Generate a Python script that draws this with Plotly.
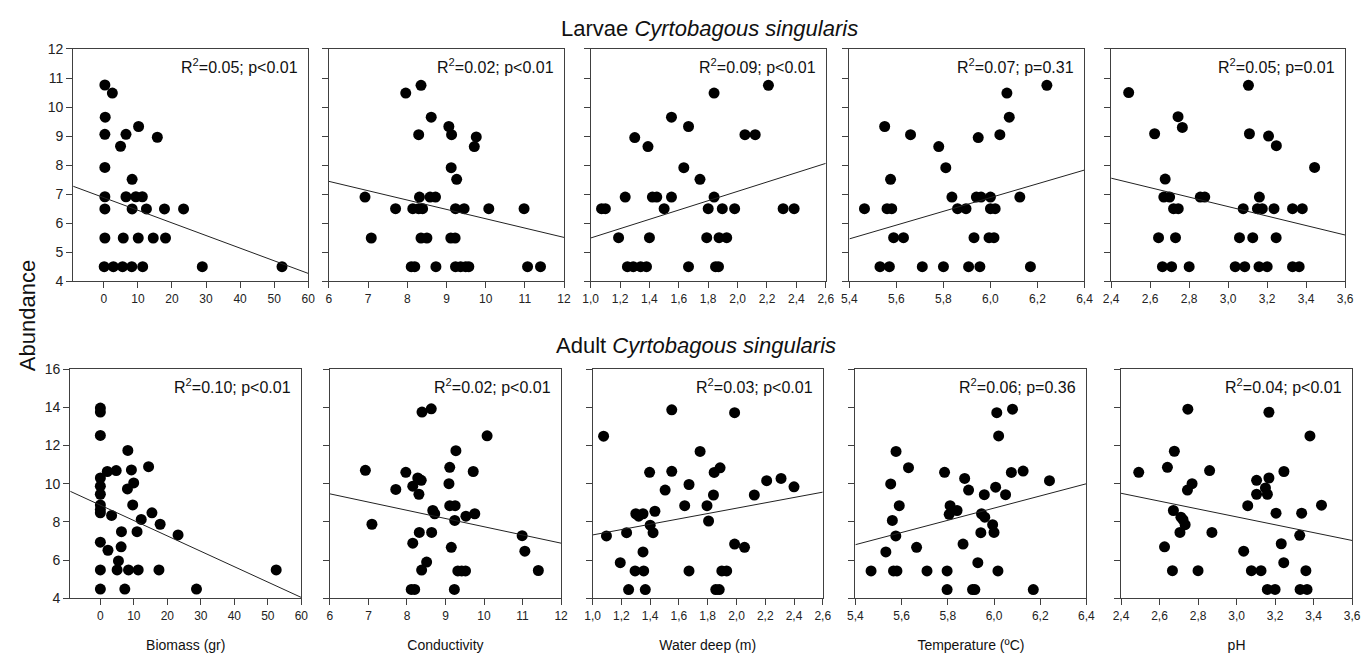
import plotly.graph_objects as go

# ---------------- data ----------------
variables = ["Biomass (gr)", "Conductivity", "Water deep (m)", "Temperature (ºC)", "pH"]
row_titles = ["Larvae <i>Cyrtobagous singularis</i>", "Adult <i>Cyrtobagous singularis</i>"]
y_label = "Abundance"

x_ranges = [[-9, 60], [6, 12], [1.0, 2.6], [5.4, 6.4], [2.4, 3.6]]
x_tickvals = [
    [0, 10, 20, 30, 40, 50, 60],
    [6, 7, 8, 9, 10, 11, 12],
    [1.0, 1.2, 1.4, 1.6, 1.8, 2.0, 2.2, 2.4, 2.6],
    [5.4, 5.6, 5.8, 6.0, 6.2, 6.4],
    [2.4, 2.6, 2.8, 3.0, 3.2, 3.4, 3.6],
]
x_ticktext = [
    ["0", "10", "20", "30", "40", "50", "60"],
    ["6", "7", "8", "9", "10", "11", "12"],
    ["1,0", "1,2", "1,4", "1,6", "1,8", "2,0", "2,2", "2,4", "2,6"],
    ["5,4", "5,6", "5,8", "6,0", "6,2", "6,4"],
    ["2,4", "2,6", "2,8", "3,0", "3,2", "3,4", "3,6"],
]
y_ranges = [[4, 12], [4, 16]]
y_tickvals = [[4, 5, 6, 7, 8, 9, 10, 11, 12], [4, 6, 8, 10, 12, 14, 16]]

# Larvae
larvae_biomass_x = [0.3, 2.5, 0.4, 0.3, 6.5, 4.9, 10.2, 15.7, 0.3, 8.3, 0.3, 6.5, 9.4, 11.3, 0.3, 8.3, 12.5, 17.8,
                    23.4, 0.3, 5.7, 10.1, 14.5, 18.1, 0.1, 2.8, 5.5, 8.2, 11.4, 28.9, 52.3]
larvae_biomass_y = [10.76, 10.48, 9.65, 9.06, 9.06, 8.65, 9.33, 8.96, 7.92, 7.51, 6.91, 6.91, 6.91, 6.91, 6.49, 6.49,
                    6.49, 6.49, 6.49, 5.49, 5.49, 5.49, 5.49, 5.49, 4.5, 4.5, 4.5, 4.5, 4.5, 4.5, 4.5]
larvae_cond_x = [7.96, 8.35, 8.61, 9.06, 8.29, 9.13, 9.76, 9.71, 9.12, 9.26, 6.92, 8.31, 8.58, 8.72, 7.70, 8.14, 8.29,
                 8.39, 9.23, 9.45, 10.08, 10.98, 7.08, 8.35, 8.5, 9.11, 9.22, 8.1, 8.19, 8.73, 9.23, 9.36, 9.49, 9.57,
                 11.07, 11.4]
larvae_cond_y = [10.48, 10.75, 9.65, 9.33, 9.05, 9.05, 8.97, 8.64, 7.91, 7.51, 6.9, 6.9, 6.9, 6.9, 6.5, 6.5, 6.5, 6.5,
                 6.5, 6.5, 6.5, 6.5, 5.49, 5.49, 5.49, 5.49, 5.49, 4.5, 4.5, 4.5, 4.5, 4.5, 4.5, 4.5, 4.5, 4.5]
larvae_water_x = [1.074, 1.10, 1.19, 1.235, 1.25, 1.29, 1.34, 1.38, 1.30, 1.39, 1.40, 1.42, 1.45, 1.50, 1.55, 1.55,
                  1.666, 1.634, 1.744, 1.666, 1.84, 1.84, 1.80, 1.896, 1.98, 1.79, 1.874, 1.926, 1.85, 1.87, 2.05,
                  2.12, 2.21, 2.31, 2.385]
larvae_water_y = [6.5, 6.5, 5.5, 6.9, 4.5, 4.5, 4.5, 4.5, 8.95, 8.64, 5.5, 6.9, 6.9, 6.5, 6.9, 9.65, 9.33, 7.91, 7.51,
                  4.5, 10.48, 6.9, 6.5, 6.5, 6.5, 5.5, 5.5, 5.5, 4.5, 4.5, 9.05, 9.05, 10.75, 6.5, 6.5]
larvae_temp_x = [5.464, 5.55, 5.56, 5.58, 5.575, 5.588, 5.63, 5.53, 5.57, 5.66, 5.71, 5.78, 5.81, 5.836, 5.86, 5.896,
                 5.80, 5.907, 5.955, 5.93, 5.948, 5.94, 5.96, 6.0, 6.0, 6.02, 5.994, 6.015, 6.04, 6.07, 6.08, 6.125,
                 6.17, 6.24]
larvae_temp_y = [6.5, 9.33, 6.5, 6.5, 7.51, 5.5, 5.5, 4.5, 4.5, 9.05, 4.5, 8.64, 7.91, 6.9, 6.5, 6.5, 4.5, 4.5, 4.5,
                 5.5, 8.95, 6.9, 6.9, 6.9, 6.5, 6.5, 5.5, 5.5, 9.05, 10.48, 9.65, 6.9, 4.5, 10.75]
larvae_ph_x = [2.49, 2.623, 2.743, 2.765, 2.677, 2.67, 2.70, 2.72, 2.744, 2.857, 2.88, 2.643, 2.73, 2.663, 2.71, 2.80,
               3.104, 3.109, 3.207, 3.247, 3.443, 3.16, 3.077, 3.15, 3.175, 3.235, 3.33, 3.38, 3.058, 3.126, 3.246,
               3.036, 3.085, 3.158, 3.20, 3.33, 3.364]
larvae_ph_y = [10.5, 9.08, 9.67, 9.3, 7.52, 6.9, 6.9, 6.5, 6.5, 6.9, 6.9, 5.5, 5.5, 4.5, 4.5, 4.5, 10.75, 9.08, 9.0,
               8.67, 7.92, 6.9, 6.5, 6.5, 6.5, 6.5, 6.5, 6.5, 5.5, 5.5, 5.5, 4.5, 4.5, 4.5, 4.5, 4.5, 4.5]

# Adults
adult_biomass_x = [0, 0, 0, 8.2, 0, 0, 0, 2.07, 4.73, 9.27, 14.4, 9.96, 8.09, 0, 0, 0, 9.66, 3.35, 12.2, 15.4, 17.85,
                   23.2, 6.3, 10.95, 6.2, 0, 2.27, 5.4, 0, 5.0, 8.4, 11.3, 17.5, 52.5, 0, 7.3, 28.7]
adult_biomass_y = [13.96, 13.75, 12.53, 11.74, 10.3, 9.87, 9.45, 10.64, 10.69, 10.72, 10.89, 10.04, 9.73, 8.89, 8.65,
                   8.48, 8.89, 8.34, 8.13, 8.48, 7.88, 7.32, 7.49, 7.49, 6.7, 6.94, 6.52, 5.96, 5.49, 5.49, 5.49, 5.49,
                   5.49, 5.49, 4.49, 4.49, 4.49]
adult_cond_x = [6.92, 7.09, 7.71, 7.97, 8.15, 8.28, 8.37, 8.31, 8.39, 8.63, 8.67, 8.72, 8.32, 8.64, 8.15, 8.51, 8.38,
                8.11, 8.2, 9.11, 9.27, 9.09, 10.08, 9.72, 9.11, 9.25, 9.24, 9.53, 9.76, 9.15, 9.32, 9.42, 9.52, 9.23,
                10.99, 11.06, 11.41]
adult_cond_y = [10.7, 7.88, 9.7, 10.6, 9.87, 10.3, 10.18, 9.45, 13.75, 13.92, 8.6, 8.43, 7.45, 7.45, 6.89, 5.9, 5.48,
                4.47, 4.47, 10.86, 11.73, 10.0, 12.51, 10.64, 8.85, 8.85, 8.08, 8.3, 8.43, 6.67, 5.44, 5.44, 5.44,
                4.47, 7.28, 6.47, 5.46]
adult_water_x = [1.076, 1.096, 1.236, 1.192, 1.25, 1.295, 1.355, 1.366, 1.35, 1.30, 1.32, 1.35, 1.433, 1.40, 1.42,
                 1.396, 1.55, 1.55, 1.504, 1.67, 1.64, 1.67, 1.747, 1.845, 1.886, 1.84, 1.795, 1.806, 1.898, 1.932,
                 1.856, 1.88, 1.987, 1.987, 2.056, 2.124, 2.21, 2.31, 2.40]
adult_water_y = [12.49, 7.27, 7.44, 5.87, 4.46, 5.44, 5.44, 4.46, 6.43, 8.43, 8.3, 8.43, 8.56, 7.83, 7.44, 10.6,
                 10.65, 13.87, 9.67, 9.96, 8.85, 5.44, 11.69, 10.59, 10.83, 9.41, 8.85, 8.05, 5.44, 5.44, 4.46, 4.46,
                 13.72, 6.84, 6.67, 9.41, 10.16, 10.28, 9.84]
adult_temp_x = [5.468, 5.532, 5.553, 5.56, 5.576, 5.575, 5.59, 5.565, 5.58, 5.63, 5.665, 5.71, 5.786, 5.797, 5.797,
                5.806, 5.81, 5.84, 5.866, 5.873, 5.89, 5.907, 5.917, 5.93, 5.958, 5.946, 5.96, 5.943, 5.994, 6.0,
                6.007, 6.017, 6.012, 6.08, 6.02, 6.05, 6.075, 6.126, 6.17, 6.24]
adult_temp_y = [5.44, 6.43, 9.99, 8.08, 11.69, 7.27, 8.85, 5.44, 5.44, 10.84, 6.67, 5.44, 10.6, 5.44, 4.46, 8.4, 8.85,
                8.6, 6.84, 10.28, 9.67, 4.46, 4.46, 5.87, 9.43, 8.43, 8.25, 7.44, 7.86, 7.45, 9.82, 5.44, 13.72, 13.9,
                12.5, 9.43, 10.59, 10.66, 4.46, 10.16]
adult_ph_x = [2.492, 2.626, 2.641, 2.677, 2.672, 2.711, 2.722, 2.733, 2.706, 2.667, 2.745, 2.769, 2.747, 2.80, 2.86,
              2.872, 3.037, 3.058, 3.077, 3.127, 3.104, 3.104, 3.15, 3.16, 3.168, 3.168, 3.16, 3.2, 3.205, 3.232,
              3.245, 3.246, 3.328, 3.338, 3.33, 3.366, 3.36, 3.381, 3.441]
adult_ph_y = [10.6, 6.7, 10.86, 11.7, 8.6, 8.25, 8.12, 7.86, 7.45, 5.45, 9.67, 10.0, 13.9, 5.45, 10.69, 7.45, 6.47,
              8.85, 5.45, 5.45, 10.18, 9.45, 9.78, 9.45, 10.3, 13.74, 4.47, 4.47, 8.46, 6.86, 5.87, 10.64, 7.3, 8.46,
              4.47, 4.47, 5.45, 12.5, 8.88]

# fitted regression lines (intercept, slope)
larvae_intercepts = [6.88, 9.37, 3.884, -7.338, 11.47]
larvae_slopes = [-0.0435, -0.3217, 1.606, 2.37, -1.633]
adult_intercepts = [8.879, 12.05, 5.92, -10.416, 14.44]
adult_slopes = [-0.0805, -0.43, 1.4, 3.19, -2.058]

larvae_stats = ["R<sup>2</sup>=0.05; p&lt;0.01", "R<sup>2</sup>=0.02; p&lt;0.01", "R<sup>2</sup>=0.09; p&lt;0.01",
                "R<sup>2</sup>=0.07; p=0.31", "R<sup>2</sup>=0.05; p=0.01"]
adult_stats = ["R<sup>2</sup>=0.10; p&lt;0.01", "R<sup>2</sup>=0.02; p&lt;0.01", "R<sup>2</sup>=0.03; p&lt;0.01",
               "R<sup>2</sup>=0.06; p=0.36", "R<sup>2</sup>=0.04; p&lt;0.01"]

rows = [
    dict(xs=[larvae_biomass_x, larvae_cond_x, larvae_water_x, larvae_temp_x, larvae_ph_x],
         ys=[larvae_biomass_y, larvae_cond_y, larvae_water_y, larvae_temp_y, larvae_ph_y],
         b=larvae_intercepts, m=larvae_slopes, stats=larvae_stats),
    dict(xs=[adult_biomass_x, adult_cond_x, adult_water_x, adult_temp_x, adult_ph_x],
         ys=[adult_biomass_y, adult_cond_y, adult_water_y, adult_temp_y, adult_ph_y],
         b=adult_intercepts, m=adult_slopes, stats=adult_stats),
]

# ---------------- layout geometry (pixels) ----------------
W, H = 1370, 663
row_x_px = [
    [(66, 304), (325, 563), (590, 828), (852, 1090), (1117, 1354)],
    [(63, 297), (326, 560), (592, 825), (858, 1092), (1127, 1361)],
]
row_y_px = [(42, 280), (370, 605)]
title_pos = [(710, 21), (697, 346)]

FONT = "Liberation Sans, Arial, sans-serif"
AX = "#404040"

fig = go.Figure()
layout = dict(width=W, height=H, margin=dict(l=0, r=0, t=0, b=0), plot_bgcolor="white",
              paper_bgcolor="white", showlegend=False, font=dict(family=FONT, color="#111"))
annotations = []

n = 0
for r, row in enumerate(rows):
    for c in range(5):
        n += 1
        xa = "x" if n == 1 else f"x{n}"
        ya = "y" if n == 1 else f"y{n}"
        x0p, x1p = row_x_px[r][c]
        y0p, y1p = row_y_px[r]
        xax = dict(
            domain=[x0p / W, x1p / W], anchor=ya, range=x_ranges[c],
            tickvals=x_tickvals[c], ticktext=x_ticktext[c], ticks="outside", ticklen=6,
            tickcolor=AX, showline=True, linecolor=AX, linewidth=1, mirror=True,
            showgrid=False, zeroline=False, tickfont=dict(size=12, color="#222"),
        )
        if r == 1:
            xax["title"] = dict(text=variables[c], font=dict(size=14, color="#111"), standoff=18)
        layout["xaxis" if n == 1 else f"xaxis{n}"] = xax
        layout["yaxis" if n == 1 else f"yaxis{n}"] = dict(
            domain=[1 - y1p / H, 1 - y0p / H], anchor=xa, range=y_ranges[r],
            tickvals=y_tickvals[r], ticks="outside", ticklen=6, tickcolor=AX,
            showline=True, linecolor=AX, linewidth=1, mirror=True, showgrid=False,
            zeroline=False, showticklabels=(c == 0), tickfont=dict(size=14, color="#222"),
        )
        fig.add_trace(go.Scatter(x=row["xs"][c], y=row["ys"][c], mode="markers",
                                 marker=dict(size=11, color="black"), xaxis=xa, yaxis=ya,
                                 cliponaxis=False))
        lx = x_ranges[c]
        ly = [row["b"][c] + row["m"][c] * v for v in lx]
        fig.add_trace(go.Scatter(x=lx, y=ly, mode="lines", line=dict(color="#222", width=1),
                                 xaxis=xa, yaxis=ya))
        annotations.append(dict(text=row["stats"][c], xref=f"{xa} domain", yref=f"{ya} domain",
                                x=1, y=1, xanchor="right", yanchor="top", xshift=-8, yshift=-5,
                                showarrow=False, font=dict(size=16, color="#111")))

for r in range(2):
    cx, cy = title_pos[r]
    annotations.append(dict(text=row_titles[r], xref="paper", yref="paper", x=cx / W, y=1 - cy / H,
                            xanchor="center", yanchor="middle", showarrow=False,
                            font=dict(size=22, color="#111")))
annotations.append(dict(text=y_label, xref="paper", yref="paper", x=20 / W, y=1 - 315 / H, textangle=-90,
                        xanchor="center", yanchor="middle", showarrow=False, font=dict(size=22, color="#111")))

layout["annotations"] = annotations
fig.update_layout(**layout)
fig.write_html("out.html")
